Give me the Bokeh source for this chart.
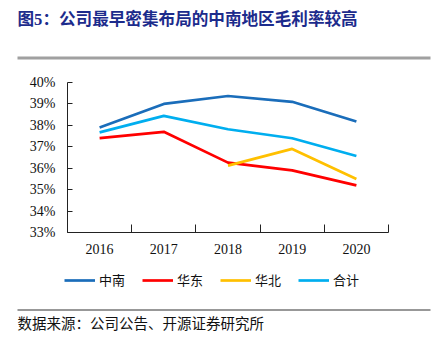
from bokeh.plotting import figure
from bokeh.models import (Range1d, FixedTicker, NumeralTickFormatter, Legend, LegendItem,
                          Label, BoxAnnotation, LinearAxis)
from bokeh.embed import file_html
from bokeh.resources import INLINE

years = ["2016", "2017", "2018", "2019", "2020"]
zhongnan = [0.379, 0.390, 0.3937, 0.391, 0.3818]
huadong = [0.374, 0.377, 0.3626, 0.359, 0.352]
huabei_years = ["2018", "2019", "2020"]
huabei = [0.3612, 0.369, 0.355]
heji = [0.3767, 0.3844, 0.3782, 0.374, 0.3657]
y_ticks = [0.33, 0.34, 0.35, 0.36, 0.37, 0.38, 0.39, 0.40]

names = ["中南", "华东", "华北", "合计"]
colors = ["#1A6DBA", "#FF0000", "#FFC000", "#00AEEF"]

title_text = "图5：公司最早密集布局的中南地区毛利率较高"
source_text = "数据来源：公司公告、开源证券研究所"

# canvas geometry (pixels)
W, H = 437, 350
FL, FR, FT, FB = 67, 388, 82, 232
YMIN, YMAX = y_ticks[0], y_ticks[-1]
n = len(years)
xpp = n / (FR - FL)
ypp = (YMAX - YMIN) / (FB - FT)
x_range = Range1d(-FL * xpp, n + (W - FR) * xpp)
y_range = Range1d(YMIN - (H - FB) * ypp, YMAX + FT * ypp)

p = figure(width=W, height=H, output_backend="svg", toolbar_location=None,
           x_range=x_range, y_range=y_range, x_axis_location=None, y_axis_location=None,
           min_border=0)
p.outline_line_color = None
p.xgrid.visible = False
p.ygrid.visible = False
p.background_fill_color = "white"
p.border_fill_color = "white"

xi = {y: i + 0.5 for i, y in enumerate(years)}

series = [
    (names[0], [xi[y] for y in years], zhongnan, colors[0]),
    (names[1], [xi[y] for y in years], huadong, colors[1]),
    (names[2], [xi[y] for y in huabei_years], huabei, colors[2]),
    (names[3], [xi[y] for y in years], heji, colors[3]),
]
items = []
for name, xs, ys, c in series:
    r = p.line(xs, ys, line_color=c, line_width=2.7)
    items.append(LegendItem(label=name, renderers=[r]))

xa = LinearAxis(fixed_location=YMIN, bounds=(0, n))
xa.ticker = FixedTicker(ticks=[xi[y] for y in years], minor_ticks=list(range(n + 1)))
xa.major_label_overrides = {xi[y]: y for y in years}
xa.major_tick_in = 0
xa.major_tick_out = 0
xa.minor_tick_in = 8
xa.minor_tick_out = 0
xa.major_label_standoff = 11
ya = LinearAxis(fixed_location=0, bounds=(YMIN, YMAX))
ya.ticker = FixedTicker(ticks=y_ticks)
ya.formatter = NumeralTickFormatter(format="0%")
ya.major_tick_in = 5
ya.major_tick_out = 0
ya.minor_tick_line_color = None
ya.major_label_standoff = 12
for ax in (xa, ya):
    ax.axis_line_color = "#222222"
    ax.major_tick_line_color = "#222222"
    ax.major_label_text_font = "Liberation Serif"
    ax.major_label_text_font_size = "14px"
    ax.major_label_text_color = "#111111"
xa.minor_tick_line_color = "#222222"
p.add_layout(xa, "below")
p.add_layout(ya, "left")

legend = Legend(items=items, orientation="horizontal", location=(64, H - 289),
                glyph_width=31, glyph_height=10, label_standoff=4, spacing=17,
                padding=0, margin=0, border_line_color=None, background_fill_alpha=0,
                label_text_font="Noto Sans CJK SC", label_text_font_size="13px",
                label_text_color="#111111")
p.add_layout(legend, "center")


def screen_label(cx, cy_mid, **kw):
    p.add_layout(Label(x=cx, y=H - cy_mid, x_units="screen", y_units="screen",
                       text_baseline="middle", **kw))


def screen_rule(x0, x1, y0, y1, color):
    p.add_layout(BoxAnnotation(left=x0, right=x1, top=H - y0, bottom=H - y1,
                               left_units="screen", right_units="screen",
                               top_units="screen", bottom_units="screen",
                               fill_color=color, fill_alpha=1, line_color=None))


screen_label(17, 19, text=title_text, text_font="Liberation Serif, Noto Sans CJK SC",
             text_font_size="16.6px", text_font_style="bold", text_color="#1C2B8C")
screen_label(17, 322, text=source_text, text_font="Noto Sans CJK SC", text_font_size="14.5px",
             text_color="#111111")
screen_rule(17, 430, 56, 59, "#A0A0A0")
screen_rule(17, 430, 309, 310, "#333333")

open("out.html", "w").write(file_html(p, INLINE))
